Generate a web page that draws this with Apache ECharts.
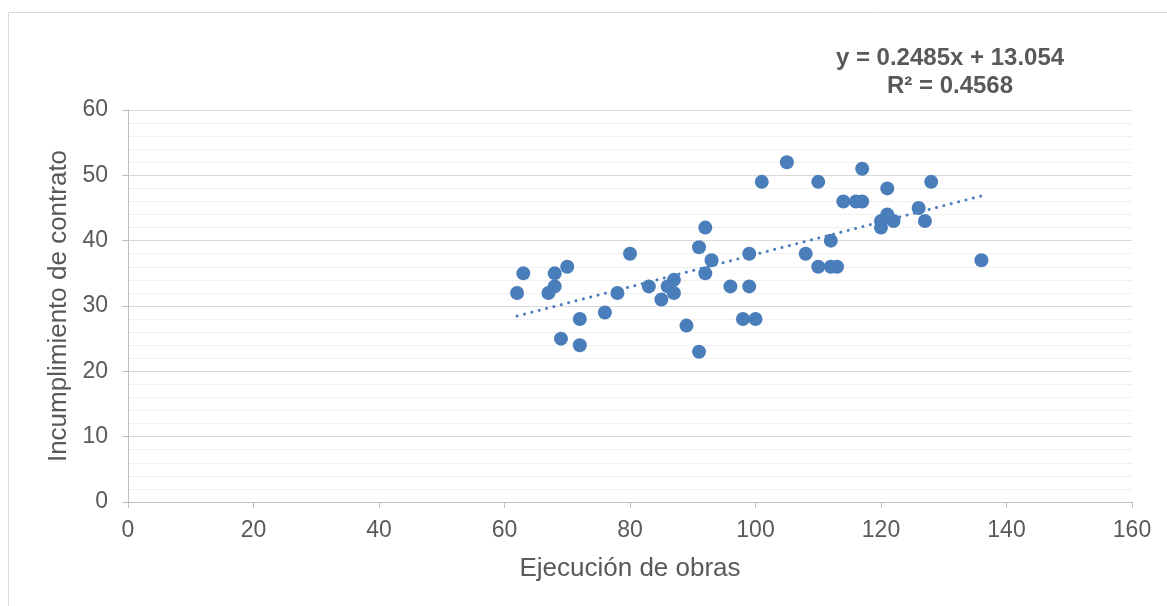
<!DOCTYPE html>
<html>
<head>
<meta charset="utf-8">
<script src="https://cdn.jsdelivr.net/npm/echarts@6/dist/echarts.min.js"></script>
<style>html,body{margin:0;padding:0;background:#fff;}#chart{width:1167px;height:606px;}</style>
</head>
<body>
<div id="chart"></div>
<script>
const xValues = [62,63,67,68,68,70,69,72,72,76,78,80,83,85,86,87,87,89,91,91,92,92,93,96,98,99,99,100,101,105,108,
  110,110,112,112,113,114,116,117,117,120,120,121,122,121,126,127,128,136];
const yValues = [32,35,32,33,35,36,25,28,24,29,32,38,33,31,33,34,32,27,39,23,42,35,37,33,28,38,33,28,49,52,38,
  49,36,40,36,36,46,46,51,46,42,43,44,43,48,45,43,49,37];
const trendSlope = 0.2485;
const trendIntercept = 13.054;
const equationLines = ['y = 0.2485x + 13.054', 'R² = 0.4568'];
const xAxisTitle = 'Ejecución de obras';
const yAxisTitle = 'Incumplimiento de contrato';

const points = xValues.map((x, i) => [x, yValues[i]]);
const xMin = Math.min(...xValues), xMax = Math.max(...xValues);
const trend = [[xMin, trendSlope * xMin + trendIntercept], [xMax, trendSlope * xMax + trendIntercept]];

const chart = echarts.init(document.getElementById('chart'));
const font = 'Liberation Sans, Arial, sans-serif';
chart.setOption({
  animation: false,
  grid: {left: 128, right: 35, top: 110, bottom: 104},
  graphic: [
    {type: 'line', shape: {x1: 8.5, y1: 12.5, x2: 1167, y2: 12.5}, style: {stroke: '#d9d9d9', lineWidth: 1}},
    {type: 'line', shape: {x1: 8.5, y1: 12.5, x2: 8.5, y2: 606}, style: {stroke: '#d9d9d9', lineWidth: 1}},
    {type: 'text', x: 950, y: 44, style: {text: equationLines.join('\n'), font: 'bold 24px ' + font, fill: '#595959', align: 'center', verticalAlign: 'top', lineHeight: 28}}
  ],
  xAxis: {
    type: 'value', min: 0, max: 160, interval: 20,
    name: xAxisTitle, nameLocation: 'middle', nameGap: 54,
    nameTextStyle: {fontFamily: font, fontSize: 26, color: '#595959'},
    axisLine: {show: true, lineStyle: {color: '#bfbfbf', width: 1}},
    axisTick: {show: true, length: 6, lineStyle: {color: '#bfbfbf'}},
    axisLabel: {fontFamily: font, fontSize: 23, color: '#595959', margin: 17},
    splitLine: {show: false}
  },
  yAxis: {
    type: 'value', min: 0, max: 60, interval: 10,
    name: yAxisTitle, nameLocation: 'middle', nameGap: 56, nameRotate: 90,
    nameTextStyle: {fontFamily: font, fontSize: 26, color: '#595959'},
    axisLine: {show: true, lineStyle: {color: '#bfbfbf', width: 1}},
    axisTick: {show: true, length: 6, lineStyle: {color: '#bfbfbf'}},
    axisLabel: {fontFamily: font, fontSize: 23, color: '#595959', margin: 20},
    splitLine: {show: true, lineStyle: {color: '#d9d9d9', width: 1}},
    minorTick: {show: false, splitNumber: 5},
    minorSplitLine: {show: true, lineStyle: {color: '#f0f0f0', width: 1}}
  },
  series: [
    {
      type: 'line', data: trend, symbol: 'none', silent: true, z: 3,
      lineStyle: {color: '#4a7ebb', width: 3, type: [0.1, 7.5], cap: 'round'}
    },
    {
      type: 'scatter', data: points, symbol: 'circle', symbolSize: 14, z: 4,
      itemStyle: {color: '#4a7ebb', opacity: 1}
    }
  ]
});
</script>
</body>
</html>
